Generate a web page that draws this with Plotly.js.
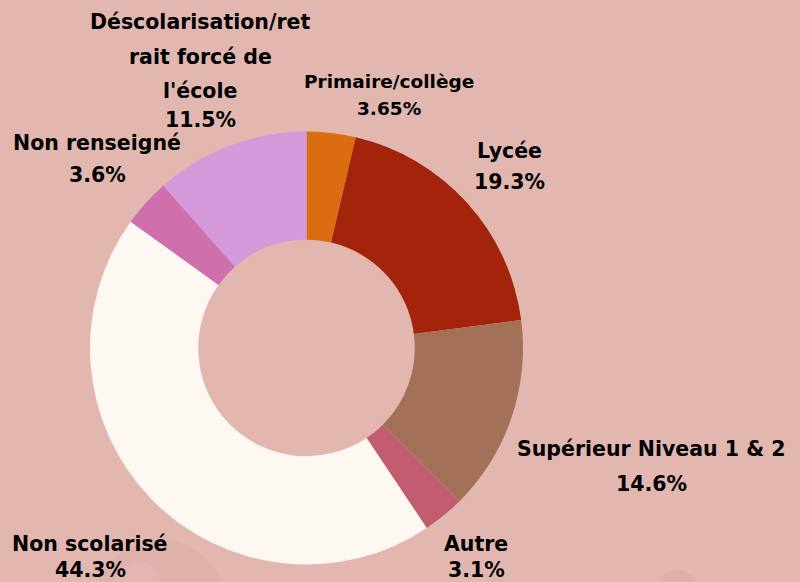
<!DOCTYPE html>
<html>
<head>
<meta charset="utf-8">
<script src="https://cdn.plot.ly/plotly-3.0.1.min.js"></script>
<style>html,body{margin:0;padding:0;background:#E2B7B0;}#chart{width:800px;height:582px;}</style>
</head>
<body>
<div id="chart"></div>
<script>
const categories = ["Primaire/collège", "Lycée", "Supérieur Niveau 1 & 2", "Autre", "Non scolarisé", "Non renseigné", "Déscolarisation/retrait forcé de l'école"];
const labelLines = [["Primaire/collège"], ["Lycée"], ["Supérieur Niveau 1 & 2"], ["Autre"], ["Non scolarisé"], ["Non renseigné"], ["Déscolarisation/ret", "rait forcé de", "l'école"]];
const values = [3.65, 19.3, 14.6, 3.1, 44.3, 3.6, 11.5];
const valueLabels = ["3.65%", "19.3%", "14.6%", "3.1%", "44.3%", "3.6%", "11.5%"];
const colors = ["#DA6C12", "#A3240B", "#A37157", "#C25C70", "#FEF7F2", "#CF6FAE", "#D399D9"];

const W = 800, H = 582;
// label placement (pixel centre x, y of each line)
const labelPos = [
  {x: 389, ys: [82, 108], size: 18.5},
  {x: 509, ys: [151, 182], size: 20.5},
  {x: 651, ys: [449, 484], size: 20.5},
  {x: 476, ys: [544, 570], size: 20.5},
  {x: 90, ys: [544, 570], size: 20.5},
  {x: 97, ys: [143, 175], size: 20.5},
  {x: 200, ys: [22, 57, 91, 120], size: 20.5}
];
const annotations = [];
labelPos.forEach((p, i) => {
  const lines = labelLines[i].concat([valueLabels[i]]);
  lines.forEach((t, j) => {
    annotations.push({
      xref: "paper", yref: "paper", x: p.x / W, y: 1 - p.ys[j] / H,
      xanchor: "center", yanchor: "middle", showarrow: false, text: t,
      font: {family: "DejaVu Sans", size: p.size, color: "#000", weight: "bold"}
    });
  });
});

const cx = 306.5, cy = 348, r = 216.5;
const data = [{
  type: "pie", labels: categories, values: values, sort: false,
  direction: "clockwise", rotation: 0, hole: 0.5,
  marker: {colors: colors, line: {width: 0}},
  textinfo: "none", hoverinfo: "label+percent", showlegend: false,
  domain: {x: [(cx - r) / W, (cx + r) / W], y: [(H - cy - r) / H, (H - cy + r) / H]}
}];
const layout = {
  width: W, height: H, margin: {l: 0, r: 0, t: 0, b: 0},
  paper_bgcolor: "#E2B7B0", plot_bgcolor: "#E2B7B0",
  annotations: annotations,
  shapes: [
    {type: "circle", xref: "paper", yref: "paper", layer: "below", x0: 90 / W, x1: 230 / W, y0: 1 - 690 / H, y1: 1 - 540 / H, fillcolor: "rgba(200,140,130,0.13)", line: {width: 0}},
    {type: "circle", xref: "paper", yref: "paper", layer: "below", x0: 115 / W, x1: 160 / W, y0: 1 - 605 / H, y1: 1 - 562 / H, fillcolor: "rgba(240,200,195,0.3)", line: {width: 0}},
    {type: "circle", xref: "paper", yref: "paper", layer: "below", x0: 656 / W, x1: 700 / W, y0: 1 - 614 / H, y1: 1 - 570 / H, fillcolor: "rgba(200,140,130,0.15)", line: {width: 0}}
  ]
};
Plotly.newPlot("chart", data, layout, {displayModeBar: false, staticPlot: true});
</script>
</body>
</html>
